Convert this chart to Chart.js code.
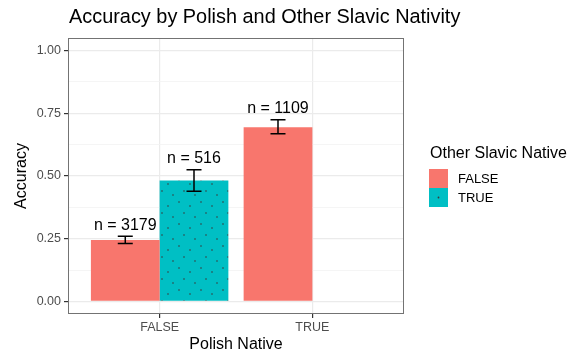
<!DOCTYPE html>
<html>
<head>
<meta charset="utf-8">
<script src="https://cdn.jsdelivr.net/npm/chart.js@4"></script>
<style>
html, body { margin: 0; padding: 0; background: #fff; }
#wrap { width: 578px; height: 356px; }
</style>
</head>
<body>
<div id="wrap"><canvas id="chart" width="578" height="356"></canvas></div>
<script>
// ==================== DATA ====================
const polishNative = ['FALSE', 'TRUE'];
const slavicGroups = ['FALSE', 'TRUE'];
const accFalse = [0.245, 0.694];
const accTrue = [0.482, null];
const lowFalse = [0.231, 0.668];
const highFalse = [0.260, 0.724];
const lowTrue = [0.439, null];
const highTrue = [0.525, null];
const nFalse = [3179, 1109];
const nTrue = [516, null];
const yTicks = [0, 0.25, 0.5, 0.75, 1];
const yTickLabels = ['0.00', '0.25', '0.50', '0.75', '1.00'];
const yMinor = [0.125, 0.375, 0.625, 0.875];

const FONT = "'Liberation Sans', Arial, Helvetica, sans-serif";
const RED = '#F8766D';
const CYAN = '#00BFC4';

Chart.defaults.font.family = FONT;

const canvas = document.getElementById('chart');
const ctx = canvas.getContext('2d');

// dotted fill for the "TRUE" group
function dotPattern() {
    const p = document.createElement('canvas');
    p.width = 22; p.height = 22;
    const g = p.getContext('2d');
    g.fillStyle = CYAN;
    g.fillRect(0, 0, 22, 22);
    g.fillStyle = '#3a3a3a';
    [[3, 4], [14, 8], [8, 15], [19, 19]].forEach(([x, y]) => {
        g.beginPath();
        g.arc(x, y, 0.8, 0, Math.PI * 2);
        g.fill();
    });
    return ctx.createPattern(p, 'repeat');
}
const truePattern = dotPattern();

// ==================== PLUGINS ====================
const errorBars = {
    id: 'errorBars',
    afterDatasetsDraw(chart) {
        const c = chart.ctx;
        const y = chart.scales.y;
        const sets = [
            { lo: lowFalse, hi: highFalse, n: nFalse },
            { lo: lowTrue, hi: highTrue, n: nTrue }
        ];
        c.save();
        sets.forEach((s, d) => {
            const meta = chart.getDatasetMeta(d);
            meta.data.forEach((bar, j) => {
                if (s.lo[j] == null) return;
                const x = bar.x;
                const yLo = y.getPixelForValue(s.lo[j]);
                const yHi = y.getPixelForValue(s.hi[j]);
                c.strokeStyle = '#000';
                c.lineWidth = 1.5;
                c.beginPath();
                c.moveTo(x, yLo); c.lineTo(x, yHi);
                c.moveTo(x - 7.5, yLo); c.lineTo(x + 7.5, yLo);
                c.moveTo(x - 7.5, yHi); c.lineTo(x + 7.5, yHi);
                c.stroke();
                c.fillStyle = '#000';
                c.font = '16px ' + FONT;
                c.textAlign = 'center';
                c.textBaseline = 'middle';
                c.fillText('n = ' + s.n[j], x, yHi - 11);
            });
        });
        c.restore();
    }
};

const frame = {
    id: 'frame',
    afterDraw(chart) {
        const c = chart.ctx;
        const a = chart.chartArea;
        c.save();
        // panel border
        c.strokeStyle = '#737373';
        c.lineWidth = 1;
        c.strokeRect(a.left + 0.5, a.top + 0.5, a.right - a.left - 1, a.bottom - a.top - 1);

        // title and axis titles
        c.fillStyle = '#000';
        c.font = '19.9px ' + FONT;
        c.textAlign = 'left';
        c.textBaseline = 'middle';
        c.fillText('Accuracy by Polish and Other Slavic Nativity', a.left + 1, 18);

        c.font = '16px ' + FONT;
        c.textAlign = 'center';
        c.fillText('Polish Native', (a.left + a.right) / 2, 345);
        c.save();
        c.translate(22, (a.top + a.bottom) / 2);
        c.rotate(-Math.PI / 2);
        c.fillText('Accuracy', 0, 0);
        c.restore();

        // legend
        c.textAlign = 'left';
        c.fillText('Other Slavic Native', 430, 154);
        const fills = [RED, CYAN];
        slavicGroups.forEach((lab, i) => {
            const ky = 169 + i * 19;
            c.fillStyle = fills[i];
            c.fillRect(429, ky, 19, 19);
            if (i === 1) {
                c.fillStyle = '#3a3a3a';
                c.beginPath();
                c.arc(438.5, ky + 9.5, 0.9, 0, Math.PI * 2);
                c.fill();
            }
            c.fillStyle = '#000';
            c.font = '13px ' + FONT;
            c.fillText(lab, 458, ky + 10);
            c.font = '16px ' + FONT;
        });
        c.restore();
    }
};

// ==================== CHART ====================
const chart = new Chart(ctx, {
    type: 'bar',
    data: {
        datasets: [
            {
                label: slavicGroups[0],
                backgroundColor: RED,
                data: polishNative.map((p, i) => ({ x: i + 1, y: accFalse[i] }))
            },
            {
                label: slavicGroups[1],
                backgroundColor: truePattern,
                data: polishNative.map((p, i) => ({ x: i + 1, y: accTrue[i] }))
            }
        ]
    },
    options: {
        responsive: false,
        animation: false,
        devicePixelRatio: 1,
        categoryPercentage: 0.9,
        barPercentage: 1.0,
        layout: { padding: { left: 0, right: 174, top: 38, bottom: 0 } },
        plugins: {
            legend: { display: false },
            tooltip: { enabled: false }
        },
        scales: {
            x: {
                type: 'linear',
                min: 0.4,
                max: 2.6,
                offset: false,
                afterBuildTicks: s => { s.ticks = polishNative.map((p, i) => ({ value: i + 1 })); },
                afterFit: s => { s.height = 42; },
                border: { display: false },
                grid: {
                    offset: false,
                    color: '#ebebeb',
                    lineWidth: 1.2,
                    tickColor: '#333333',
                    tickLength: 4
                },
                ticks: {
                    color: '#4d4d4d',
                    font: { size: 12.5 },
                    padding: 2,
                    maxRotation: 0,
                    callback: v => polishNative[v - 1]
                }
            },
            y: {
                min: -0.05,
                max: 1.05,
                afterBuildTicks: s => {
                    s.ticks = yTicks.concat(yMinor).sort((a, b) => a - b).map(v => ({ value: v }));
                },
                afterFit: s => { s.width = 68; },
                border: { display: false },
                grid: {
                    color: c => yTicks.includes(c.tick.value) ? '#ebebeb' : '#f3f3f3',
                    lineWidth: c => yTicks.includes(c.tick.value) ? 1.2 : 0.8,
                    tickColor: c => yTicks.includes(c.tick.value) ? '#333333' : 'rgba(0,0,0,0)',
                    tickLength: 4
                },
                ticks: {
                    color: '#4d4d4d',
                    font: { size: 12.5 },
                    padding: 3,
                    callback: v => {
                        const k = yTicks.indexOf(v);
                        return k >= 0 ? yTickLabels[k] : '';
                    }
                }
            }
        }
    },
    plugins: [errorBars, frame]
});
</script>
</body>
</html>
